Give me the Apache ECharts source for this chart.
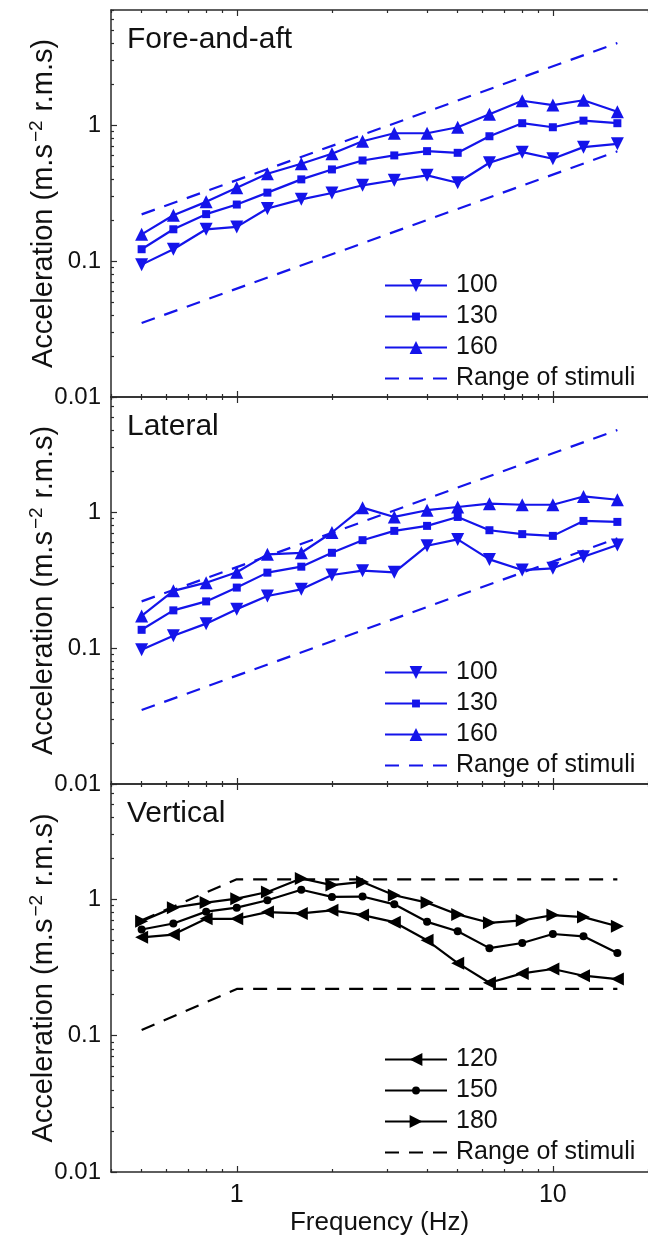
<!DOCTYPE html>
<html>
<head>
<meta charset="utf-8">
<script src="https://cdn.jsdelivr.net/npm/echarts@6/dist/echarts.min.js"></script>
<style>
  html, body { margin: 0; padding: 0; background: #fff; }
  #chart { width: 648px; height: 1242px; }
</style>
</head>
<body>
<div id="chart"></div>
<script>
// One-third octave centre frequencies (Hz)
const freqs = [0.5, 0.63, 0.8, 1, 1.25, 1.6, 2, 2.5, 3.15, 4, 5, 6.3, 8, 10, 12.5, 16];

// Fore-and-aft equivalent accelerations (m/s^2 r.m.s.)
const foreAft100 = [0.094, 0.122, 0.171, 0.178, 0.243, 0.284, 0.316, 0.36, 0.392, 0.426, 0.376, 0.527, 0.631, 0.564, 0.687, 0.726];
const foreAft130 = [0.122, 0.171, 0.221, 0.26, 0.318, 0.398, 0.471, 0.548, 0.597, 0.642, 0.624, 0.826, 1.03, 0.962, 1.076, 1.03];
const foreAft160 = [0.157, 0.217, 0.272, 0.346, 0.438, 0.519, 0.614, 0.759, 0.869, 0.869, 0.962, 1.2, 1.506, 1.4, 1.52, 1.25];

// Lateral
const lateral100 = [0.097, 0.123, 0.151, 0.193, 0.241, 0.27, 0.344, 0.37, 0.36, 0.564, 0.628, 0.448, 0.374, 0.385, 0.469, 0.571];
const lateral130 = [0.136, 0.189, 0.22, 0.278, 0.358, 0.396, 0.501, 0.62, 0.726, 0.79, 0.919, 0.734, 0.687, 0.667, 0.859, 0.845];
const lateral160 = [0.172, 0.263, 0.302, 0.36, 0.488, 0.501, 0.706, 1.076, 0.919, 1.03, 1.088, 1.15, 1.13, 1.13, 1.30, 1.23];

// Vertical
const vertical120 = [0.526, 0.551, 0.719, 0.719, 0.805, 0.787, 0.829, 0.765, 0.679, 0.5, 0.34, 0.244, 0.286, 0.308, 0.275, 0.26];
const vertical150 = [0.6, 0.664, 0.811, 0.868, 0.983, 1.173, 1.04, 1.047, 0.918, 0.683, 0.582, 0.438, 0.478, 0.556, 0.535, 0.403];
const vertical180 = [0.691, 0.868, 0.945, 1.01, 1.13, 1.42, 1.27, 1.34, 1.07, 0.945, 0.774, 0.672, 0.699, 0.765, 0.74, 0.634];

// Range of stimuli (lower and upper bounds)
const rangeFreqs = [0.5, 16];
const foreAftRangeLow = [0.035, 0.64];
const foreAftRangeHigh = [0.22, 4.0];
const lateralRangeLow = [0.035, 0.64];
const lateralRangeHigh = [0.22, 4.0];
const verticalRangeFreqs = [0.5, 1, 16];
const verticalRangeLow = [0.11, 0.22, 0.22];
const verticalRangeHigh = [0.7, 1.4, 1.4];

// Tick positions
const xMajorTicks = [1, 10];
const xMinorTicks = [0.4, 0.5, 0.6, 0.7, 0.8, 0.9, 2, 3, 4, 5, 6, 7, 8, 9, 20];
const yMajorTicks = [0.01, 0.1, 1];
const yMinorTicks = [0.02, 0.03, 0.04, 0.05, 0.06, 0.07, 0.08, 0.09,
                     0.2, 0.3, 0.4, 0.5, 0.6, 0.7, 0.8, 0.9, 2, 3, 4, 5, 6, 7];

const FONT = "'Liberation Sans', Arial, Helvetica, sans-serif";
const BLUE = '#1414ea';
const BLACK = '#000000';
const AXIS = '#2a2a2a';
const TEXT = '#111111';
const X_MIN = 0.4, X_MAX = 20, Y_MIN = 0.01, Y_MAX = 7;

// Marker shapes drawn inside a 13-unit box so that the small squares/dots
// keep their proportion next to the triangles (also in the legend).
const SMALL_SQUARE = 'path://M0 0M13 13M2.5 2.5L10.5 2.5L10.5 10.5L2.5 10.5Z';
const SMALL_DOT = 'path://M0 0M13 13M10.5 6.5A4 4 0 1 1 2.5 6.5A4 4 0 1 1 10.5 6.5Z';
const MARK = 13;

const panels = [
  { title: 'Fore-and-aft', top: 10, height: 387, color: BLUE,
    lines: [
      { key: 'fa100', label: '100', values: foreAft100, symbol: 'triangle', rotate: 180 },
      { key: 'fa130', label: '130', values: foreAft130, symbol: SMALL_SQUARE, rotate: 0 },
      { key: 'fa160', label: '160', values: foreAft160, symbol: 'triangle', rotate: 0 }
    ],
    range: { key: 'faRange', freqs: rangeFreqs, low: foreAftRangeLow, high: foreAftRangeHigh } },
  { title: 'Lateral', top: 397, height: 387, color: BLUE,
    lines: [
      { key: 'lat100', label: '100', values: lateral100, symbol: 'triangle', rotate: 180 },
      { key: 'lat130', label: '130', values: lateral130, symbol: SMALL_SQUARE, rotate: 0 },
      { key: 'lat160', label: '160', values: lateral160, symbol: 'triangle', rotate: 0 }
    ],
    range: { key: 'latRange', freqs: rangeFreqs, low: lateralRangeLow, high: lateralRangeHigh } },
  { title: 'Vertical', top: 784, height: 388, color: BLACK,
    lines: [
      { key: 'v120', label: '120', values: vertical120, symbol: 'triangle', rotate: 90 },
      { key: 'v150', label: '150', values: vertical150, symbol: SMALL_DOT, rotate: 0 },
      { key: 'v180', label: '180', values: vertical180, symbol: 'triangle', rotate: -90 }
    ],
    range: { key: 'vRange', freqs: verticalRangeFreqs, low: verticalRangeLow, high: verticalRangeHigh } }
];

const legendLabels = {};
const grids = [], xAxes = [], yAxes = [], series = [], legends = [], titles = [];

function tickLabel(v) { return String(+Number(v).toPrecision(3)); }

panels.forEach((p, gi) => {
  const isLast = gi === panels.length - 1;
  grids.push({ left: 111, right: -8, top: p.top, height: p.height, containLabel: false });

  const xBase = { type: 'log', logBase: 10, min: X_MIN, max: X_MAX, gridIndex: gi, splitLine: { show: false } };
  // bottom axis with major ticks (labels on the last panel only)
  xAxes.push(Object.assign({}, xBase, {
    position: 'bottom',
    axisLine: { show: true, onZero: false, lineStyle: { color: AXIS, width: 1.5 } },
    axisTick: { show: true, inside: true, length: 6, customValues: xMajorTicks, lineStyle: { color: AXIS, width: 1.2 } },
    axisLabel: { show: isLast, customValues: xMajorTicks, margin: 11, fontSize: 25, color: TEXT, fontFamily: FONT, formatter: tickLabel },
    name: isLast ? 'Frequency (Hz)' : '', nameLocation: 'middle', nameGap: 38, nameMoveOverlap: false,
    nameTextStyle: { fontSize: 26, color: TEXT, fontFamily: FONT }
  }));
  // bottom minor ticks
  xAxes.push(Object.assign({}, xBase, {
    position: 'bottom', axisLine: { show: false },
    axisTick: { show: true, inside: true, length: 3, customValues: xMinorTicks, lineStyle: { color: AXIS, width: 1.2 } },
    axisLabel: { show: false }
  }));
  // top border with ticks
  xAxes.push(Object.assign({}, xBase, {
    position: 'top',
    axisLine: { show: true, onZero: false, lineStyle: { color: AXIS, width: 1.5 } },
    axisTick: { show: true, inside: true, length: 6, customValues: xMajorTicks, lineStyle: { color: AXIS, width: 1.2 } },
    axisLabel: { show: false }
  }));
  xAxes.push(Object.assign({}, xBase, {
    position: 'top', axisLine: { show: false },
    axisTick: { show: true, inside: true, length: 3, customValues: xMinorTicks, lineStyle: { color: AXIS, width: 1.2 } },
    axisLabel: { show: false }
  }));

  const yBase = { type: 'log', logBase: 10, min: Y_MIN, max: Y_MAX, gridIndex: gi, splitLine: { show: false } };
  yAxes.push(Object.assign({}, yBase, {
    position: 'left',
    axisLine: { show: true, onZero: false, lineStyle: { color: AXIS, width: 1.5 } },
    axisTick: { show: true, inside: true, length: 6, customValues: yMajorTicks, lineStyle: { color: AXIS, width: 1.2 } },
    axisLabel: { show: true, customValues: yMajorTicks, margin: 10, fontSize: 24, color: TEXT, fontFamily: FONT, formatter: tickLabel },
    name: 'Acceleration (m.s{sup|\u22122} r.m.s)', nameLocation: 'middle', nameGap: 50, nameRotate: 90,
    nameMoveOverlap: false,
    nameTextStyle: { fontSize: 29, color: TEXT, fontFamily: FONT,
      rich: { sup: { fontSize: 19, fontFamily: FONT, color: TEXT, padding: [0, 1, 15, 2] } } }
  }));
  yAxes.push(Object.assign({}, yBase, {
    position: 'left', axisLine: { show: false },
    axisTick: { show: true, inside: true, length: 3, customValues: yMinorTicks, lineStyle: { color: AXIS, width: 1.2 } },
    axisLabel: { show: false }
  }));

  const xi = gi * 4, yi = gi * 2;
  const legendData = [];
  p.lines.forEach(l => {
    legendLabels[l.key] = l.label;
    legendData.push({ name: l.key });
    series.push({
      type: 'line', name: l.key, xAxisIndex: xi, yAxisIndex: yi,
      data: freqs.map((f, i) => [f, l.values[i]]),
      symbol: l.symbol, symbolSize: MARK, symbolRotate: l.rotate,
      color: p.color,
      lineStyle: { color: p.color, width: 2.2 },
      itemStyle: { color: p.color, borderWidth: 0 },
      emphasis: { disabled: true }, silent: true, z: 3
    });
  });
  legendLabels[p.range.key] = 'Range of stimuli';
  // dashed bounds have no marker, so hide the legend symbol
  legendData.push({ name: p.range.key, itemStyle: { opacity: 0 } });
  [p.range.low, p.range.high].forEach(vals => {
    series.push({
      type: 'line', name: p.range.key, xAxisIndex: xi, yAxisIndex: yi,
      data: p.range.freqs.map((f, i) => [f, vals[i]]),
      symbol: 'none', color: p.color,
      lineStyle: { color: p.color, width: 2.2, type: [14, 10] },
      emphasis: { disabled: true }, silent: true, z: 2
    });
  });

  legends.push({
    orient: 'vertical', left: 384, top: p.top + 263, padding: 0,
    itemWidth: 62, itemHeight: 16, itemGap: 6,
    selectedMode: false,
    data: legendData,
    formatter: name => legendLabels[name],
    textStyle: { fontSize: 25, color: TEXT, fontFamily: FONT, padding: [0, 0, 0, 4] }
  });

  titles.push({
    text: p.title, left: 122, top: p.top + 10,
    textStyle: { fontSize: 30, fontWeight: 'normal', color: TEXT, fontFamily: FONT }
  });
});

const chart = echarts.init(document.getElementById('chart'), null, { renderer: 'canvas' });
chart.setOption({
  animation: false,
  backgroundColor: '#ffffff',
  textStyle: { fontFamily: FONT },
  title: titles,
  legend: legends,
  grid: grids,
  xAxis: xAxes,
  yAxis: yAxes,
  series: series
});
</script>
</body>
</html>
